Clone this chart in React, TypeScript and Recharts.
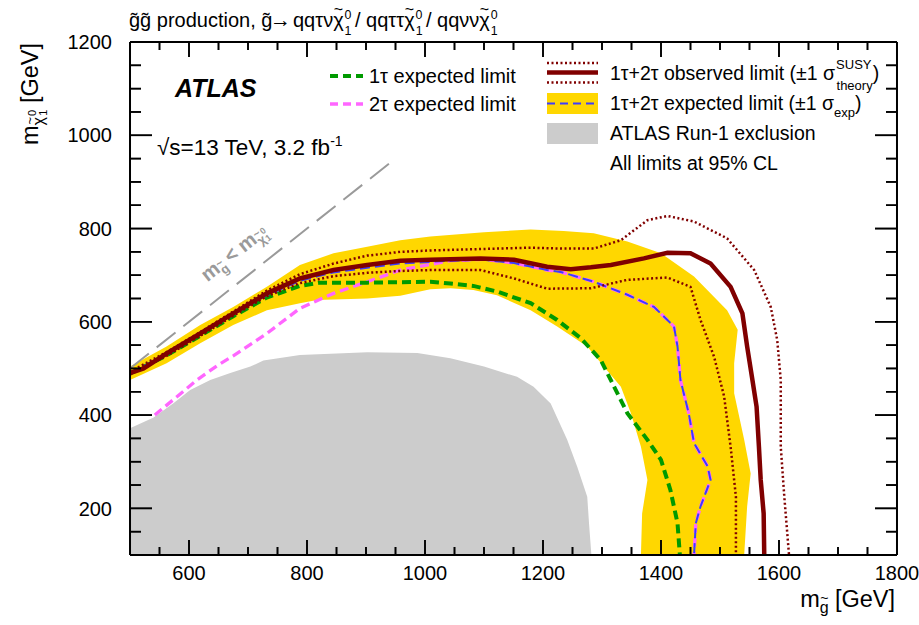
import React from 'react';
import { ComposedChart, Line, Area, Scatter, XAxis, YAxis } from 'recharts';

const FONT = '"Liberation Sans", Arial, Helvetica, sans-serif';

// axis ticks
const X_MAJOR = [600, 800, 1000, 1200, 1400, 1600, 1800];
const X_MINOR = [550, 650, 700, 750, 850, 900, 950, 1050, 1100, 1150, 1250, 1300, 1350, 1450, 1500, 1550, 1650, 1700, 1750];
const Y_MAJOR = [200, 400, 600, 800, 1000, 1200];
const Y_MINOR = [150, 250, 300, 350, 450, 500, 550, 650, 700, 750, 850, 900, 950, 1050, 1100, 1150];

// ATLAS Run-1 exclusion (boundary, closed on the bottom axis)
const RUN1: [number, number][] = [
  [500, 372], [540, 395], [573, 425], [602, 454], [636, 475], [670, 490], [704, 504], [726, 517],
  [788, 529], [902, 535], [987, 533], [1043, 522], [1100, 504], [1156, 482], [1184, 461], [1213, 425],
  [1241, 347], [1258, 289], [1275, 225], [1278, 168], [1282, 100],
];

// expected +-1 sigma band (boundary, closed on the bottom axis)
const BAND: [number, number][] = [
  [1366, 100], [1368, 189], [1377, 261], [1366, 332], [1349, 404], [1332, 461], [1303, 504], [1275, 547],
  [1224, 590], [1179, 625], [1122, 657], [1082, 668], [1043, 672], [1009, 670], [958, 656], [902, 650],
  [817, 647], [788, 640], [732, 625], [675, 593], [619, 554], [562, 511], [500, 475],
  [500, 504], [562, 547], [619, 593], [675, 632], [732, 675], [788, 722], [845, 747], [902, 761],
  [958, 775], [1009, 783], [1100, 792], [1179, 798], [1235, 795], [1286, 790], [1343, 772], [1400, 747],
  [1456, 697], [1512, 625], [1530, 583], [1524, 511], [1524, 447], [1541, 347], [1552, 275], [1546, 204],
  [1541, 100],
];

const OBSERVED: [number, number][] = [
  [500, 490], [523, 500], [562, 532], [619, 575], [675, 618], [732, 661], [788, 693], [845, 711],
  [902, 722], [958, 731], [1009, 733], [1094, 736], [1151, 733], [1207, 718], [1247, 713], [1281, 717],
  [1315, 722], [1371, 736], [1411, 748], [1450, 747], [1484, 725], [1518, 675], [1538, 618], [1546, 547],
  [1555, 475], [1562, 418], [1566, 332], [1569, 261], [1574, 189], [1575, 100],
];

const OBS_UP: [number, number][] = [
  [500, 493], [562, 535], [619, 578], [675, 622], [732, 667], [788, 702], [845, 725], [902, 742],
  [958, 750], [1009, 753], [1094, 756], [1179, 759], [1230, 757], [1286, 757], [1332, 775], [1377, 818],
  [1411, 827], [1456, 815], [1512, 779], [1558, 711], [1586, 632], [1597, 561], [1603, 475], [1603, 400],
  [1603, 332], [1609, 225], [1617, 100],
];

const OBS_DOWN: [number, number][] = [
  [500, 487], [562, 527], [619, 570], [675, 613], [732, 655], [788, 683], [845, 698], [902, 705],
  [958, 709], [1009, 711], [1094, 711], [1151, 693], [1207, 671], [1281, 672], [1343, 690], [1411, 695],
  [1450, 675], [1467, 604], [1490, 525], [1507, 440], [1518, 332], [1527, 225], [1527, 100],
];

const EXPECTED: [number, number][] = [
  [500, 490], [562, 530], [619, 573], [675, 616], [732, 657], [788, 688], [845, 706], [902, 716],
  [958, 725], [1043, 731], [1100, 733], [1151, 726], [1207, 711], [1230, 707], [1286, 686], [1343, 658],
  [1388, 632], [1422, 590], [1428, 547], [1433, 475], [1447, 404], [1456, 340], [1479, 290], [1484, 261],
  [1467, 204], [1459, 168], [1456, 100],
];

const EXP_1TAU: [number, number][] = [
  [500, 489], [562, 528], [619, 570], [675, 612], [732, 652], [788, 677], [822, 684], [902, 684],
  [1009, 686], [1043, 682], [1082, 677], [1122, 665], [1179, 640], [1224, 604], [1264, 565], [1298, 518],
  [1315, 475], [1343, 404], [1377, 347], [1400, 304], [1416, 239], [1428, 168], [1432, 100],
];

const EXP_2TAU: [number, number][] = [
  [542, 400], [580, 440], [613, 475], [650, 508], [675, 527], [732, 575], [788, 629], [845, 661],
  [902, 686], [958, 711], [1043, 731], [1100, 734], [1151, 726], [1207, 711], [1230, 707], [1286, 686],
  [1343, 658], [1388, 632], [1422, 590], [1428, 547], [1433, 475], [1447, 404], [1456, 340], [1479, 290],
  [1484, 261], [1467, 204], [1459, 168], [1456, 100],
];

const DIAGONAL: [number, number][] = [[500, 500], [950, 950]];

const pts = (a: [number, number][]) => a.map(([x, y]) => ({ x, y }));

const C_YELLOW = '#FFD700';
const C_RED = '#800000';
const C_GREEN = '#009A00';
const C_PINK = '#FF66FF';
const C_BLUE = '#3C3CFF';
const C_GREY = '#CCCCCC';

const X_DOMAIN: [number, number] = [500, 1800];
const Y_DOMAIN: [number, number] = [100, 1200];
const MARGIN = { top: 42, right: 22, bottom: 70, left: 130 };
const CW = 919;
const CH = 625;
const PLOT_W = CW - MARGIN.left - MARGIN.right;
const PLOT_H = CH - MARGIN.top - MARGIN.bottom;
const Z = 0.01;

// frame tick positions (axis decoration)
const X_ALL = [...X_MINOR, ...X_MAJOR].filter((v) => v < X_DOMAIN[1]).sort((a, b) => a - b);
const Y_ALL = [...Y_MINOR, ...Y_MAJOR].filter((v) => v < Y_DOMAIN[1]).sort((a, b) => a - b);
const TICKS_BOTTOM = X_ALL.map((v) => ({ x: v, y: Y_DOMAIN[0] }));
const TICKS_LEFT = Y_ALL.map((v) => ({ x: X_DOMAIN[0], y: v }));

// tick marks: bottom+top from the bottom points, left+right from the left points
const tickShape = (kind: 'x' | 'y') => (p: any) => {
  const { cx, cy, payload } = p;
  if (cx == null || cy == null || !isFinite(cx) || !isFinite(cy)) return <g />;
  if (kind === 'x') {
    const len = X_MAJOR.includes(payload.x) ? 15 : 8;
    return (
      <g>
        <line x1={cx} x2={cx} y1={cy} y2={cy - len} stroke="#000" strokeWidth={1.6} />
        <line x1={cx} x2={cx} y1={cy - PLOT_H} y2={cy - PLOT_H + len} stroke="#000" strokeWidth={1.6} />
      </g>
    );
  }
  const len = Y_MAJOR.includes(payload.y) ? 22 : 11;
  return (
    <g>
      <line x1={cx} x2={cx + len} y1={cy} y2={cy} stroke="#000" strokeWidth={1.6} />
      <line x1={cx + PLOT_W} x2={cx + PLOT_W - len} y1={cy} y2={cy} stroke="#000" strokeWidth={1.6} />
    </g>
  );
};

// overlay fallback for the frame ticks (same linear mapping as the axes)
const sx = (v: number) => MARGIN.left + ((v - X_DOMAIN[0]) / (X_DOMAIN[1] - X_DOMAIN[0])) * PLOT_W;
const sy = (v: number) => MARGIN.top + ((Y_DOMAIN[1] - v) / (Y_DOMAIN[1] - Y_DOMAIN[0])) * PLOT_H;

function XLabel(props: any) {
  const { x, y, payload } = props;
  return (
    <text x={x} y={y + 11} dy="0.72em" textAnchor="middle" fontSize={20} fill="#000" fontFamily={FONT}>{payload.value}</text>
  );
}
function YLabel(props: any) {
  const { x, y, payload } = props;
  return (
    <text x={x - 18} y={y} dy="0.36em" textAnchor="end" fontSize={20} fill="#000" fontFamily={FONT}>{payload.value}</text>
  );
}

// chi-tilde with stacked 0 / 1 indices
function Chi({ fs }: { fs: number }) {
  const s = fs * 0.62;
  return (
    <>
      <tspan fontSize={fs}>{'\u03C7'}</tspan>
      <tspan dx={-fs * 0.5} dy={-fs * 0.62} fontSize={fs * 0.8}>{'~'}</tspan>
      <tspan dx={fs * 0.08} dy={fs * 0.22} fontSize={s}>0</tspan>
      <tspan dx={-s * 0.556} dy={fs * 0.78} fontSize={s}>1</tspan>
      <tspan dy={-fs * 0.38} fontSize={fs}>{'\u200A'}</tspan>
    </>
  );
}

export default function App() {
  const common = { xAxisId: 'x', yAxisId: 'y', isAnimationActive: false, dataKey: 'y' } as any;
  const sc = { xAxisId: 'x', yAxisId: 'y', isAnimationActive: false, fill: '#000' } as any;
  return (
    <div style={{ position: 'absolute', left: 0, top: 0, width: CW, height: CH, background: '#fff', fontFamily: FONT }}>
      <ComposedChart width={CW} height={CH} margin={MARGIN}>
        <Area {...common} data={pts(RUN1)} type="linear" baseValue={100} fill={C_GREY} fillOpacity={1} stroke="none" />
        <Area {...common} data={pts(BAND)} type="linear" baseValue={100} fill={C_YELLOW} fillOpacity={1} stroke="none" />
        <Line {...common} data={pts(DIAGONAL)} type="linear" stroke="#9A9A9A" strokeWidth={2} strokeDasharray="24 10" dot={false} activeDot={false} />
        <Line {...common} data={pts(EXP_2TAU)} type="linear" stroke={C_PINK} strokeWidth={3.3} strokeDasharray="9 5" dot={false} activeDot={false} />
        <Line {...common} data={pts(EXP_1TAU)} type="linear" stroke={C_GREEN} strokeWidth={4} strokeDasharray="9 5" dot={false} activeDot={false} />
        <Line {...common} data={pts(EXPECTED)} type="linear" stroke={C_BLUE} strokeWidth={2} strokeDasharray="10 5" dot={false} activeDot={false} />
        <Line {...common} data={pts(OBS_UP)} type="linear" stroke={C_RED} strokeWidth={2.5} strokeDasharray="2 2.5" dot={false} activeDot={false} />
        <Line {...common} data={pts(OBS_DOWN)} type="linear" stroke={C_RED} strokeWidth={2.5} strokeDasharray="2 2.5" dot={false} activeDot={false} />
        <Line {...common} data={pts(OBSERVED)} type="linear" stroke={C_RED} strokeWidth={4.5} dot={false} activeDot={false} />

        <Scatter {...sc} data={TICKS_BOTTOM} shape={tickShape('x')} />
        <Scatter {...sc} data={TICKS_LEFT} shape={tickShape('y')} />

        <XAxis xAxisId="x" type="number" dataKey="x" domain={X_DOMAIN} allowDataOverflow ticks={X_MAJOR} interval={0}
          height={Z} tickSize={0} tickLine={false} tickMargin={0} axisLine={{ stroke: '#000', strokeWidth: 2 }}
          tick={XLabel} />
        <XAxis xAxisId="xt" orientation="top" type="number" domain={X_DOMAIN} allowDataOverflow ticks={X_MAJOR} interval={0}
          height={Z} tickSize={0} tick={() => <g />} tickLine={false} axisLine={{ stroke: '#000', strokeWidth: 2 }} />

        <YAxis yAxisId="y" type="number" dataKey="y" domain={Y_DOMAIN} allowDataOverflow ticks={Y_MAJOR} interval={0}
          width={Z} tickSize={0} tickLine={false} tickMargin={0} axisLine={{ stroke: '#000', strokeWidth: 2 }}
          tick={YLabel} />
        <YAxis yAxisId="yr" orientation="right" type="number" domain={Y_DOMAIN} allowDataOverflow ticks={Y_MAJOR} interval={0}
          width={Z} tickSize={0} tick={() => <g />} tickLine={false} axisLine={{ stroke: '#000', strokeWidth: 2 }} />
      </ComposedChart>

      <svg width={CW} height={CH} style={{ position: 'absolute', left: 0, top: 0, pointerEvents: 'none' }} fontFamily={FONT}>
        {/* frame ticks */}
        <g stroke="#000" strokeWidth={1.6}>
          {X_ALL.map((v) => {
            const len = X_MAJOR.includes(v) ? 15 : 8;
            const x = sx(v);
            return (
              <g key={'xt' + v}>
                <line x1={x} x2={x} y1={sy(Y_DOMAIN[0])} y2={sy(Y_DOMAIN[0]) - len} />
                <line x1={x} x2={x} y1={sy(Y_DOMAIN[1])} y2={sy(Y_DOMAIN[1]) + len} />
              </g>
            );
          })}
          {Y_ALL.map((v) => {
            const len = Y_MAJOR.includes(v) ? 22 : 11;
            const y = sy(v);
            return (
              <g key={'yt' + v}>
                <line x1={sx(X_DOMAIN[0])} x2={sx(X_DOMAIN[0]) + len} y1={y} y2={y} />
                <line x1={sx(X_DOMAIN[1])} x2={sx(X_DOMAIN[1]) - len} y1={y} y2={y} />
              </g>
            );
          })}
        </g>

        {/* title */}
        <text y={27} fontSize={20} fill="#000">
          <tspan x={129}>{'g\u0303g\u0303 production, g\u0303'}</tspan>
          <tspan x={270} fontSize={21}>{'\u2192'}</tspan>
          <tspan x={293} fontSize={20}>{'qq\u03C4\u03BD'}</tspan>
          <Chi fs={20} />
          <tspan x={355}>{'/ qq\u03C4\u03C4'}</tspan>
          <Chi fs={20} />
          <tspan x={426}>{'/ qq\u03BD\u03BD'}</tspan>
          <Chi fs={20} />
        </text>

        {/* y axis title */}
        <text transform="translate(38,43) rotate(-90)" textAnchor="end" fontSize={23.5} fill="#000">
          m
          <tspan dy={6} fontSize={16}>{'\u03C7'}</tspan>
          <tspan dx={-7.5} dy={-10} fontSize={13}>{'~'}</tspan>
          <tspan dx={1} dy={2} fontSize={11}>0</tspan>
          <tspan dx={-6} dy={11} fontSize={11}>1</tspan>
          <tspan dy={-9} fontSize={23.5}>{' [GeV]'}</tspan>
        </text>

        {/* x axis title */}
        <text x={895} y={607} textAnchor="end" fontSize={23.5} fill="#000">
          m
          <tspan dy={6} fontSize={16}>g</tspan>
          <tspan dx={-8.5} dy={-10} fontSize={14}>{'~'}</tspan>
          <tspan dy={4}>{' [GeV]'}</tspan>
        </text>

        {/* ATLAS label */}
        <text x={175} y={97} fontSize={25} fontWeight="bold" fontStyle="italic" fill="#000">ATLAS</text>
        <text x={157} y={155} fontSize={22.5} fill="#000">
          {'\u221As=13 TeV, 3.2 fb'}
          <tspan dy={-9} fontSize={14}>-1</tspan>
        </text>

        {/* diagonal label */}
        <text transform="translate(238,258) rotate(-38.4)" textAnchor="middle" fontSize={20} fontWeight="bold" fill="#9A9A9A">
          m
          <tspan dy={5} fontSize={13}>g</tspan>
          <tspan dx={-8} dy={-9} fontSize={11}>{'~'}</tspan>
          <tspan dy={4}>{' < m'}</tspan>
          <tspan dy={5} fontSize={13}>{'\u03C7'}</tspan>
          <tspan dx={-7} dy={-9} fontSize={11}>{'~'}</tspan>
          <tspan dx={1} dy={1} fontSize={9}>0</tspan>
          <tspan dx={-5} dy={9} fontSize={9}>1</tspan>
        </text>

        {/* left legend */}
        <line x1={330} x2={363} y1={76} y2={76} stroke={C_GREEN} strokeWidth={4} strokeDasharray="8 5" />
        <text x={369} y={83} fontSize={20} fill="#000">{'1\u03C4 expected limit'}</text>
        <line x1={330} x2={363} y1={104} y2={104} stroke={C_PINK} strokeWidth={3.3} strokeDasharray="8 5" />
        <text x={369} y={111} fontSize={20} fill="#000">{'2\u03C4 expected limit'}</text>

        {/* right legend */}
        <line x1={547} x2={598} y1={63} y2={63} stroke={C_RED} strokeWidth={2.5} strokeDasharray="2 2.5" />
        <line x1={547} x2={598} y1={72.5} y2={72.5} stroke={C_RED} strokeWidth={4.5} />
        <line x1={547} x2={598} y1={82.5} y2={82.5} stroke={C_RED} strokeWidth={2.5} strokeDasharray="2 2.5" />
        <text x={610} y={80} fontSize={19.5} fill="#000">
          {'1\u03C4+2\u03C4 observed limit (\u00B11 \u03C3'}
          <tspan dx={1} dy={-11} fontSize={13}>SUSY</tspan>
          <tspan dx={-35} dy={21} fontSize={13}>theory</tspan>
          <tspan dy={-10}>)</tspan>
        </text>
        <rect x={547} y={93} width={51} height={21} fill={C_YELLOW} />
        <line x1={547} x2={598} y1={103.5} y2={103.5} stroke={C_BLUE} strokeWidth={2} strokeDasharray="8 5" />
        <text x={610} y={110} fontSize={19.5} fill="#000">
          {'1\u03C4+2\u03C4 expected limit (\u00B11 \u03C3'}
          <tspan dy={7} fontSize={13}>exp</tspan>
          <tspan dy={-7}>)</tspan>
        </text>
        <rect x={547} y={123} width={51} height={21} fill={C_GREY} />
        <text x={610} y={140} fontSize={19.5} fill="#000">ATLAS Run-1 exclusion</text>
        <text x={610} y={170} fontSize={19.5} fill="#000">All limits at 95% CL</text>
      </svg>
    </div>
  );
}
